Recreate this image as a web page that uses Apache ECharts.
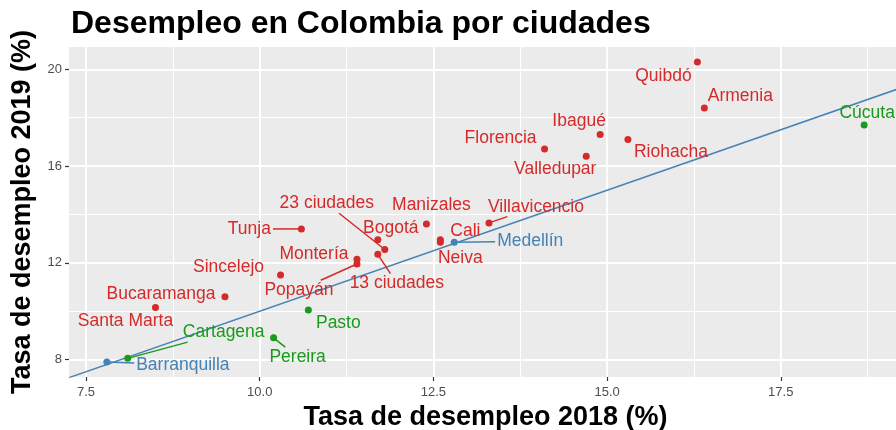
<!DOCTYPE html>
<html>
<head>
<meta charset="utf-8">
<script src="https://cdn.jsdelivr.net/npm/echarts@6/dist/echarts.min.js"></script>
<style>html,body{margin:0;padding:0;background:#fff;}#c{width:896px;height:430px;}</style>
</head>
<body>
<div id="c"></div>
<script>
const cities = ['Quibdó','Armenia','Cúcuta','Ibagué','Riohacha','Florencia','Valledupar','Villavicencio','Manizales','Tunja','23 ciudades','Bogotá','13 ciudades','Cali','Neiva','Medellín','Montería','Popayán','Sincelejo','Bucaramanga','Santa Marta','Pasto','Pereira','Cartagena','Barranquilla'];
const rate2018 = [16.3,16.4,18.7,14.9,15.3,14.1,14.7,13.3,12.4,10.6,11.8,11.7,11.7,12.6,12.6,12.8,11.4,11.4,10.3,9.5,8.5,10.7,10.2,8.1,7.8];
const rate2019 = [20.3,18.4,17.7,17.3,17.1,16.7,16.4,13.65,13.6,13.4,12.55,12.95,12.35,12.95,12.85,12.85,12.15,11.95,11.5,10.6,10.15,10.05,8.9,8.05,7.9];
const groups = ['sube','sube','baja','sube','sube','sube','sube','sube','sube','sube','sube','sube','sube','sube','sube','igual','sube','sube','sube','sube','sube','baja','baja','baja','igual'];
const xTicks = [7.5,10,12.5,15,17.5];
const xMinor = [8.75,11.25,13.75,16.25,18.75];
const yTicks = [8,12,16,20];
const yMinor = [10,14,18];

// label placement (px offsets of label centre from the point, leader flag) kept apart from the data
const labelPlace = {
  'Quibdó':[-34,14,false],'Armenia':[36,-12,false],'Cúcuta':[3,-12,false],'Ibagué':[-21,-13,false],
  'Riohacha':[43,13,false],'Florencia':[-44,-11,false],'Valledupar':[-31,13,false],'Villavicencio':[47,-16,true],
  'Manizales':[5,-19,false],'Tunja':[-52,0,true],'23 ciudades':[-58,-46,true],'Bogotá':[13,-12,false],
  '13 ciudades':[19,29,true],'Cali':[25,-9,false],'Neiva':[20,16,false],'Medellín':[76,-1,true],
  'Montería':[-43,-5,false],'Popayán':[-58,26,true],'Sincelejo':[-52,-8,false],'Bucaramanga':[-64,-3,false],
  'Santa Marta':[-30,14,false],'Pasto':[30,13,false],'Pereira':[24,19,true],'Cartagena':[96,-26,true],
  'Barranquilla':[76,3,true]
};
const colors = {sube:'#D42A2A', baja:'#1A9A1A', igual:'#4682B4'};
const FONT = '"Liberation Sans", Arial, sans-serif';
const LABEL_SIZE = 17.5;
const xMin = 7.255, xMax = 19.245, yMin = 7.28, yMax = 20.92;

const measureCtx = document.createElement('canvas').getContext('2d');
measureCtx.font = LABEL_SIZE + 'px ' + FONT;
function textW(t){ return measureCtx.measureText(t).width; }

const points = cities.map((c,i)=>({
  name:c,
  value:[rate2018[i], rate2019[i]],
  itemStyle:{color:colors[groups[i]], opacity:1},
  label:{color:colors[groups[i]]}
}));

const leaders = [];
cities.forEach((c,i)=>{ if(labelPlace[c][2]) leaders.push({name:c, value:[rate2018[i], rate2019[i], i]}); });

const gridLines = [];
xTicks.forEach(v=>gridLines.push({xAxis:v, lineStyle:{width:2}}));
xMinor.forEach(v=>gridLines.push({xAxis:v, lineStyle:{width:1}}));
yTicks.forEach(v=>gridLines.push({yAxis:v, lineStyle:{width:2}}));
yMinor.forEach(v=>gridLines.push({yAxis:v, lineStyle:{width:1}}));

const chart = echarts.init(document.getElementById('c'), null, {renderer:'canvas'});
chart.setOption({
  animation:false,
  backgroundColor:'#ffffff',
  textStyle:{fontFamily:FONT},
  title:{text:'Desempleo en Colombia por ciudades', left:66, top:3,
    textStyle:{fontSize:32, fontWeight:'bold', color:'#000', fontFamily:FONT}},
  grid:{left:69, right:-6, top:47, bottom:53, show:true, backgroundColor:'#EBEBEB', borderWidth:0, containLabel:false, outerBoundsMode:'none'},
  xAxis:{type:'value', min:xMin, max:xMax,
    name:'Tasa de desempleo 2018 (%)', nameLocation:'middle', nameGap:25,
    nameTextStyle:{fontSize:27, fontWeight:'bold', color:'#000', fontFamily:FONT},
    axisLine:{show:false},
    axisTick:{show:true, length:4, lineStyle:{color:'#333', width:1.2}, customValues:xTicks},
    axisLabel:{customValues:xTicks, formatter:v=>v.toFixed(1), color:'#4D4D4D', fontSize:13, margin:9, fontFamily:FONT},
    splitLine:{show:false}},
  yAxis:{type:'value', min:yMin, max:yMax,
    name:'Tasa de desempleo 2019 (%)', nameLocation:'middle', nameGap:33,
    nameTextStyle:{fontSize:27, fontWeight:'bold', color:'#000', fontFamily:FONT},
    axisLine:{show:false},
    axisTick:{show:true, length:4, lineStyle:{color:'#333', width:1.2}, customValues:yTicks},
    axisLabel:{customValues:yTicks, formatter:v=>String(v), color:'#4D4D4D', fontSize:13, margin:7, fontFamily:FONT},
    splitLine:{show:false}},
  series:[
    {type:'line', data:[], z:1, silent:true,
     markLine:{z:1, silent:true, symbol:'none', animation:false, label:{show:false},
       lineStyle:{color:'#ffffff', type:'solid'}, data:gridLines}},
    {type:'line', z:2, silent:true, symbol:'none', showSymbol:false,
     lineStyle:{color:'#4682B4', width:1.5},
     data:[[xMin,xMin],[xMax,xMax]]},
    {type:'custom', z:3, silent:true, data:leaders,
     renderItem:function(params, api){
       const idx = api.value(2);
       const name = cities[idx];
       const o = labelPlace[name];
       const p = api.coord([api.value(0), api.value(1)]);
       const cx = p[0]+o[0], cy = p[1]+o[1];
       const hw = textW(name)/2 + 2, hh = LABEL_SIZE/2 + 1;
       const dx = p[0]-cx, dy = p[1]-cy;
       const t = Math.min(dx!==0 ? hw/Math.abs(dx) : Infinity, dy!==0 ? hh/Math.abs(dy) : Infinity);
       const ex = cx + dx*t, ey = cy + dy*t;
       return {type:'line', shape:{x1:p[0], y1:p[1], x2:ex, y2:ey},
         style:{stroke:colors[groups[idx]], lineWidth:1.5}};
     }},
    {type:'scatter', z:4, symbolSize:7, data:points,
     label:{show:true, position:'inside', formatter:p=>p.name, fontSize:LABEL_SIZE, fontFamily:FONT,
       textBorderWidth:0, textBorderColor:'transparent', textShadowBlur:0},
     labelLayout:function(p){
       const o = labelPlace[cities[p.dataIndex]];
       return {dx:o[0], dy:o[1]};
     },
     labelLine:{show:false}
    }
  ]
});
</script>
</body>
</html>
